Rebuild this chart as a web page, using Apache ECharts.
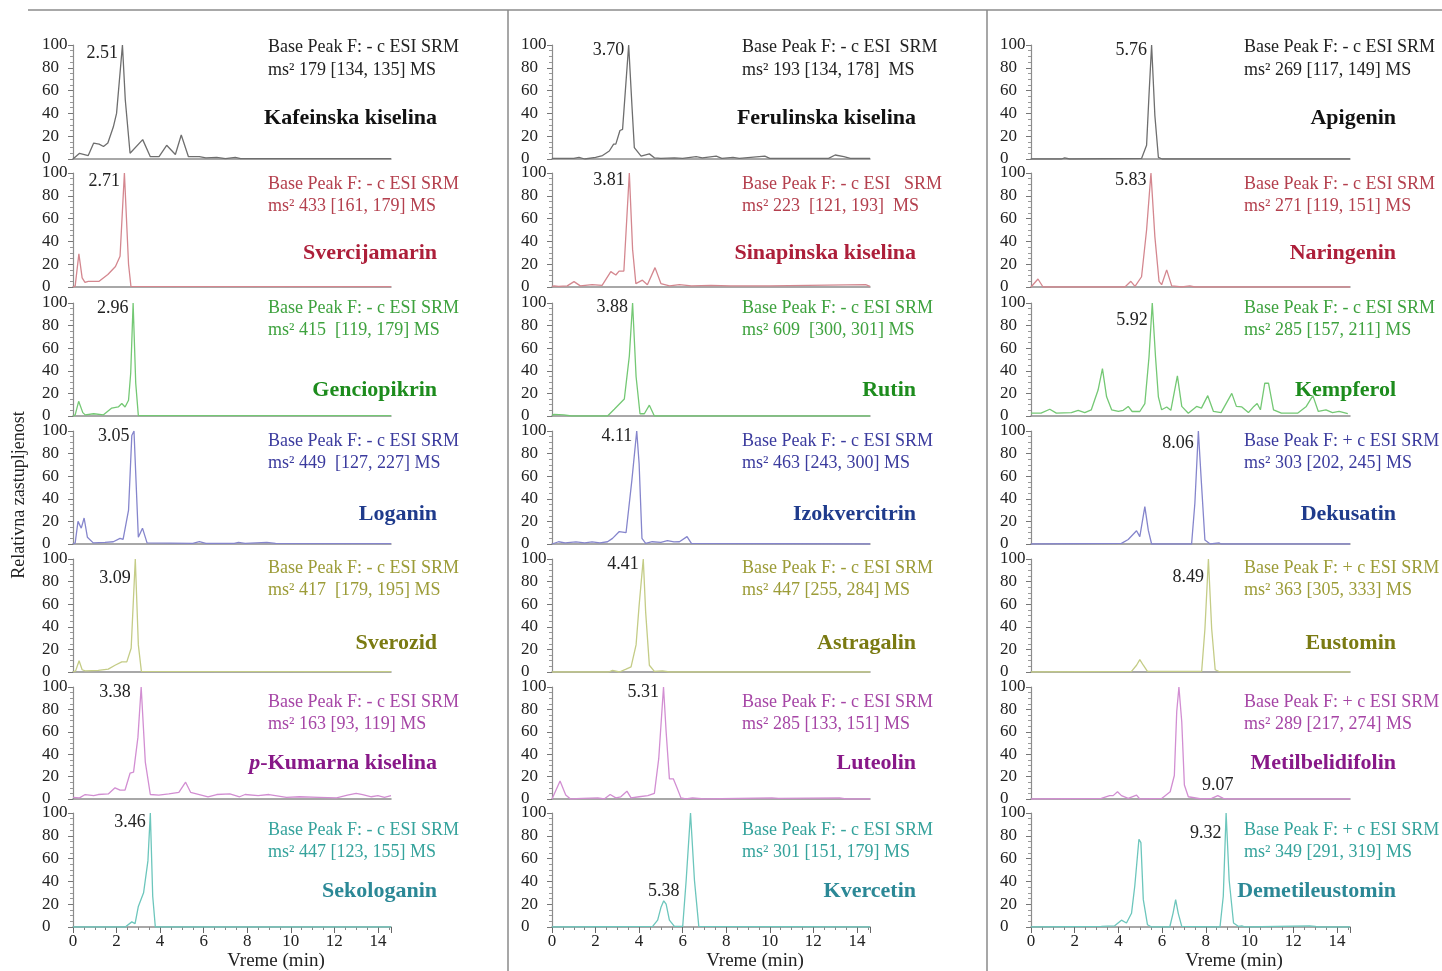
<!DOCTYPE html>
<html><head><meta charset="utf-8">
<script src="https://cdn.jsdelivr.net/npm/echarts@6/dist/echarts.min.js"></script>
<style>html,body{margin:0;padding:0;background:#fff}#c{width:1442px;height:971px}</style>
</head><body><div id="c"></div>
<script>
// ---------------- DATA ----------------
const compounds = ['Kafeinska kiselina','Svercijamarin','Genciopikrin','Loganin','Sverozid','p-Kumarna kiselina','Sekologanin',
  'Ferulinska kiselina','Sinapinska kiselina','Rutin','Izokvercitrin','Astragalin','Luteolin','Kvercetin',
  'Apigenin','Naringenin','Kempferol','Dekusatin','Eustomin','Metilbelidifolin','Demetileustomin'];
const scanFilters = ['Base Peak F: - c ESI SRM','Base Peak F: - c ESI SRM','Base Peak F: - c ESI SRM','Base Peak F: - c ESI SRM','Base Peak F: - c ESI SRM','Base Peak F: - c ESI SRM','Base Peak F: - c ESI SRM',
  'Base Peak F: - c ESI  SRM','Base Peak F: - c ESI   SRM','Base Peak F: - c ESI SRM','Base Peak F: - c ESI SRM','Base Peak F: - c ESI SRM','Base Peak F: - c ESI SRM','Base Peak F: - c ESI SRM',
  'Base Peak F: - c ESI SRM','Base Peak F: - c ESI SRM','Base Peak F: - c ESI SRM','Base Peak F: + c ESI SRM','Base Peak F: + c ESI SRM','Base Peak F: + c ESI SRM','Base Peak F: + c ESI SRM'];
const transitions = ['ms² 179 [134, 135] MS','ms² 433 [161, 179] MS','ms² 415  [119, 179] MS','ms² 449  [127, 227] MS','ms² 417  [179, 195] MS','ms² 163 [93, 119] MS','ms² 447 [123, 155] MS',
  'ms² 193 [134, 178]  MS','ms² 223  [121, 193]  MS','ms² 609  [300, 301] MS','ms² 463 [243, 300] MS','ms² 447 [255, 284] MS','ms² 285 [133, 151] MS','ms² 301 [151, 179] MS',
  'ms² 269 [117, 149] MS','ms² 271 [119, 151] MS','ms² 285 [157, 211] MS','ms² 303 [202, 245] MS','ms² 363 [305, 333] MS','ms² 289 [217, 274] MS','ms² 349 [291, 319] MS'];
const peakTimes = ['2.51','2.71','2.96','3.05','3.09','3.38','3.46','3.70','3.81','3.88','4.11','4.41','5.31','5.38','5.76','5.83','5.92','8.06','8.49','9.07','9.32'];
const xTicks = [0,2,4,6,8,10,12,14];
const yTicks = [0,20,40,60,80,100];

const kafeinska = [[0,0],[0.3,5],[0.7,3],[0.95,14],[1.2,13],[1.4,11],[1.6,14],[1.85,28],[2.0,40],[2.27,100],[2.4,52],[2.62,5],[3.2,17],[3.55,2],[3.95,2],[4.3,12],[4.7,4],[4.97,21],[5.3,2],[5.8,2],[6.1,1],[6.6,1.5],[7.0,0.3],[7.45,1.5],[7.7,0.3],[14.6,0.3]];
const svercijamarin = [[0,0],[0.1,1],[0.27,29],[0.42,8],[0.55,4],[0.7,5],[1.2,5],[1.6,11],[1.95,18],[2.16,27],[2.36,100],[2.44,99],[2.55,20],[2.66,0.5],[14.6,0.3]];
const genciopikrin = [[0,0],[0.1,1],[0.26,13],[0.45,3],[0.56,1],[0.95,2],[1.4,1],[1.78,7],[2.08,8],[2.24,11],[2.39,8],[2.55,14],[2.65,38],[2.76,100],[2.88,29],[3.0,0.3],[14.6,0.3]];
const loganin = [[0,0],[0.1,1],[0.23,20],[0.38,14],[0.51,23],[0.66,6],[0.93,1],[1.47,1.5],[1.85,2],[2.16,5],[2.3,4],[2.55,30],[2.7,96],[2.8,100],[3.0,6],[3.19,14],[3.4,1],[5.5,0.5],[5.8,2],[6.1,0.5],[7.4,0.5],[7.6,1.5],[7.9,0.5],[8.9,1.5],[9.3,0.5],[14.6,0.3]];
const sverozid = [[0,0],[0.12,1],[0.28,10],[0.42,2],[0.56,1],[1.16,1.5],[1.62,2.5],[1.93,6],[2.24,9],[2.47,9],[2.67,21],[2.86,100],[3.0,24],[3.14,0.5],[14.6,0.3]];
const pKumarna = [[0,1.5],[0.3,1],[0.56,4],[0.95,3],[1.16,4],[1.62,4.5],[1.93,10],[2.16,8],[2.39,8],[2.62,23],[2.78,24],[2.98,55],[3.13,100],[3.32,33],[3.55,4],[3.94,3.5],[4.4,4.5],[4.86,6],[5.17,15],[5.4,6],[5.8,4],[6.2,2],[6.6,4],[7.2,4.5],[7.65,2],[7.9,4],[8.5,3],[9.0,4],[9.8,1.5],[10.4,2],[11.3,1.5],[12.1,1],[12.6,3.5],[13.0,5],[13.3,4],[13.7,2],[14.0,3],[14.3,1.5],[14.6,3]];
const sekologanin = [[0,0],[2.4,0],[2.7,4.5],[2.85,3],[3.0,18],[3.24,30],[3.44,58],[3.55,100],[3.66,27],[3.78,0],[14.6,0]];
const ferulinska = [[0,0.5],[1.0,0.5],[1.24,1.5],[1.5,0],[2.0,1.5],[2.32,3],[2.63,7],[2.83,13],[2.93,13],[3.12,25],[3.24,26],[3.52,100],[3.67,47],[3.78,10],[4.09,2.5],[4.47,4.5],[4.7,1],[5.0,0.5],[5.62,1],[6.0,0.5],[6.62,2],[6.9,1],[7.54,2.5],[7.8,0.5],[8.31,1.5],[8.6,0.5],[9.77,2.5],[10.0,0.5],[12.7,0.5],[13.0,3.5],[13.4,2],[13.7,0.5],[14.6,0.5]];
const sinapinska = [[0,0.5],[0.1,1],[0.3,0.5],[0.7,1],[1.01,4.7],[1.3,1],[1.84,2],[2.3,1.5],[2.7,13.5],[2.93,10.5],[3.08,14],[3.3,14],[3.55,100],[3.7,33],[3.85,3],[4.15,6],[4.38,2],[4.73,17],[5.0,3],[5.4,1],[5.85,2],[6.4,1],[7.3,1.5],[8.2,1],[10,1],[14.4,2],[14.6,0.5]];
const rutin = [[0,0.5],[0.1,1.5],[0.54,1],[0.9,0],[2.55,0],[2.86,6],[3.32,15],[3.55,53],[3.7,100],[3.86,35],[4.04,2],[4.24,2],[4.47,9.6],[4.7,0],[14.6,0]];
const izokvercitrin = [[0,0],[0.3,2],[0.6,1],[1.1,1.8],[1.5,1],[1.84,1.8],[2.2,1],[2.55,2],[2.78,5],[3.09,11],[3.4,10],[3.67,57],[3.89,100],[4.0,71],[4.13,5],[4.3,0.5],[4.6,2],[5.0,1.5],[5.3,3],[5.6,1.8],[5.85,2],[6.2,6.5],[6.4,0.5],[14.6,0]];
const astragalin = [[0,0],[2.6,0],[2.78,1.5],[3.09,0],[3.4,2.5],[3.63,4.5],[3.86,24],[4.0,59],[4.19,100],[4.3,53],[4.47,6],[4.7,0.5],[5.07,1],[5.4,0],[14.6,0]];
const luteolin = [[0,0],[0.06,0.5],[0.37,16],[0.63,3.6],[0.85,0],[1.4,0.5],[2.1,1],[2.4,0],[2.67,4],[2.93,1],[3.16,2],[3.44,7],[3.63,1],[4.0,2],[4.4,3],[4.7,5],[4.9,36],[5.12,100],[5.24,60],[5.39,18],[5.57,18],[5.72,11],[5.92,1],[6.15,0],[6.45,1],[7,0],[10.1,1],[10.4,0.5],[13.2,1],[13.5,0],[14.6,0]];
const kvercetin = [[0,0],[4.62,0.5],[4.85,6],[5.0,17],[5.13,23],[5.24,20],[5.39,6],[5.62,0.5],[6.0,0.5],[6.16,41],[6.36,100],[6.54,41],[6.74,0.5],[14.6,0]];
const apigenin = [[0,0],[1.4,0],[1.54,1],[1.77,0],[5.06,0.5],[5.29,12],[5.4,56],[5.52,100],[5.67,38],[5.83,1.5],[6.0,0],[14.6,0]];
const naringenin = [[0,0],[0.09,0.5],[0.32,7],[0.55,0],[4.3,0],[4.57,5],[4.76,0.5],[5.06,9],[5.29,50],[5.49,100],[5.67,44],[5.86,5],[5.98,2],[6.21,15],[6.44,1],[6.9,0],[7.27,1],[7.5,0],[14.6,0]];
const kempferol = [[0,2.5],[0.46,2.5],[0.86,6],[1.16,2.5],[1.85,3],[2.16,5],[2.46,3],[2.76,5.5],[3.07,23],[3.27,42],[3.46,17],[3.69,5.5],[4.0,4],[4.22,5],[4.45,8.5],[4.63,4],[4.98,4],[5.21,11],[5.4,52],[5.55,100],[5.7,52],[5.83,17],[5.98,5.5],[6.21,8],[6.4,5],[6.7,35.5],[6.9,8.5],[7.2,2.5],[7.58,8.5],[7.8,7],[8.09,18],[8.35,4],[8.7,3],[9.19,20],[9.4,8.5],[9.65,8],[9.95,3],[10.2,8.5],[10.35,11],[10.5,5.5],[10.7,29],[10.87,29],[11.1,5.5],[11.46,2.5],[12.2,2.5],[12.6,8.5],[12.9,18],[13.15,4],[13.5,5.5],[13.8,3],[14.1,4],[14.5,2]];
const dekusatin = [[0,0],[4.14,0.5],[4.45,4],[4.83,11.7],[4.98,6.5],[5.21,33],[5.37,12],[5.52,0],[7.35,0],[7.5,36],[7.66,100],[7.8,54],[7.96,3.5],[8.2,0],[8.6,1],[8.7,0],[14.6,0]];
const eustomin = [[0,0],[4.6,0.5],[4.83,6],[4.98,11],[5.14,6],[5.33,0.5],[7.81,0.5],[7.96,38],[8.12,100],[8.27,38],[8.43,2],[8.66,0],[14.6,0]];
const metilbelidifolin = [[0,0],[3.22,0.5],[3.6,3],[3.76,3],[3.96,6.5],[4.14,3],[4.45,0.5],[4.83,3.5],[4.98,0],[5.98,0.5],[6.14,3],[6.37,6.5],[6.56,21],[6.67,78],[6.77,100],[6.9,69],[7.02,12.5],[7.2,2],[7.8,0],[8.27,0.5],[8.55,3],[8.8,0.5],[9.0,0],[14.6,0]];
const demetileustomin = [[0,0],[3.22,0.5],[3.83,1],[4.14,6],[4.37,3.5],[4.6,12],[4.75,36],[4.94,77],[5.03,74],[5.14,24],[5.33,2],[5.52,0],[6.35,0],[6.5,12],[6.62,24],[6.74,12],[6.9,0.5],[8.65,0],[8.8,27],[8.93,100],[9.07,41],[9.27,3.5],[9.5,0.5],[9.65,1],[9.8,0],[12.75,1],[13.0,0.5],[13.1,0],[14.6,0]];

const traces = [kafeinska,svercijamarin,genciopikrin,loganin,sverozid,pKumarna,sekologanin,
  ferulinska,sinapinska,rutin,izokvercitrin,astragalin,luteolin,kvercetin,
  apigenin,naringenin,kempferol,dekusatin,eustomin,metilbelidifolin,demetileustomin];

// ---------------- LAYOUT / STYLE ----------------
const FONT = '"Liberation Serif", "DejaVu Serif", serif';
const colLeft = [73, 552, 1031];
const colWidth = [318, 318, 319];
const rowTop = [45, 173, 303, 431, 559, 687, 813];
const rowHeight = [114, 114, 113, 113, 113, 112, 114];
const infoX = [268, 742, 1244];
const nameRight = [437, 916, 1396];
const infoY1 = [47, 184, 308, 441, 568, 702, 830];
const infoY2 = [70, 206, 330, 463, 590, 724, 852];
const nameY = [118, 253, 390, 514, 643, 763, 891];
const rowStyles = [
  {line:'#6e6e6e', info:'#222222', name:'#111111'},
  {line:'#d4878f', info:'#b4404e', name:'#ad1f3a'},
  {line:'#74c874', info:'#3ea23e', name:'#1d8c1d'},
  {line:'#8585cc', info:'#3b3b9e', name:'#1f3b8c'},
  {line:'#c4cc86', info:'#9c9c38', name:'#7a7a12'},
  {line:'#d28ed2', info:'#a646a6', name:'#881888'},
  {line:'#6cc6bc', info:'#35a39c', name:'#2b8896'}
];
// peak-label anchor (y in axis units; x defaults to the trace maximum)
const labelLayout = [
  {y:93},{y:93},{y:95},{y:95},{y:83},{y:95,d:10},{y:92},
  {y:95},{y:94},{y:96},{y:95},{y:95},{y:95},{x:5.13,y:23,pos:'top',d:0},
  {y:95},{y:94},{y:85},{y:89},{y:84},{x:8.55,y:3,pos:'top',d:1},{y:82}
];

const grids = [], xAxes = [], yAxes = [], series = [], graphics = [];
for (let i = 0; i < traces.length; i++) {
  const c = Math.floor(i / 7), r = i % 7;
  const bottom = r === 6;
  const st = rowStyles[r];
  grids.push({left: colLeft[c], top: rowTop[r], width: colWidth[c], height: rowHeight[r]});
  xAxes.push({
    gridIndex: i, type: 'value', min: 0, max: 14.6, interval: 2,
    axisLine: {show: true, onZero: false, lineStyle: {color: '#8c8c8c', width: 1.5}},
    axisTick: {show: bottom, length: 6, lineStyle: {color: '#666'}},
    minorTick: {show: bottom, splitNumber: 4, length: 3, lineStyle: {color: '#888'}},
    splitLine: {show: false}, minorSplitLine: {show: false},
    axisLabel: {show: bottom, fontFamily: FONT, fontSize: 17, color: '#222', margin: 6,
      formatter: v => xTicks.indexOf(Math.round(v * 1000) / 1000) >= 0 ? String(Math.round(v)) : ''}
  });
  yAxes.push({
    gridIndex: i, type: 'value', min: 0, max: 100, interval: 20,
    axisLine: {show: true, lineStyle: {color: '#8c8c8c', width: 1.2}},
    axisTick: {show: true, length: 5, lineStyle: {color: '#777'}},
    minorTick: {show: true, splitNumber: 4, length: 3, lineStyle: {color: '#999'}},
    splitLine: {show: false},
    axisLabel: {fontFamily: FONT, fontSize: 17, color: '#222', align: 'left', margin: 31,
      formatter: v => yTicks.indexOf(v) >= 0 ? String(v) : ''}
  });
  const tr = traces[i];
  let mx = tr[0];
  tr.forEach(p => { if (p[1] > mx[1]) mx = p; });
  const L = labelLayout[i];
  series.push({
    type: 'line', xAxisIndex: i, yAxisIndex: i, data: tr,
    showSymbol: false, symbol: 'none', animation: false, silent: true,
    lineStyle: {width: 1.3, color: st.line},
    markPoint: {
      symbol: 'circle', symbolSize: 1, silent: true, animation: false,
      itemStyle: {color: 'rgba(0,0,0,0)'},
      label: {show: true, position: L.pos || 'left', distance: L.d !== undefined ? L.d : 4,
        formatter: peakTimes[i], fontFamily: FONT, fontSize: 18, color: '#222'},
      data: [{coord: [L.x !== undefined ? L.x : mx[0], L.y]}]
    }
  });
  graphics.push({type: 'text', silent: true, style: {x: infoX[c], y: infoY1[r], text: scanFilters[i],
    font: '18px ' + FONT, fill: st.info, align: 'left', verticalAlign: 'middle', textAlign: 'left', textVerticalAlign: 'middle'}});
  graphics.push({type: 'text', silent: true, style: {x: infoX[c], y: infoY2[r], text: transitions[i],
    font: '18px ' + FONT, fill: st.info, align: 'left', verticalAlign: 'middle', textAlign: 'left', textVerticalAlign: 'middle'}});
  const nm = compounds[i];
  const isP = nm.indexOf('p-') === 0;
  graphics.push({type: 'text', silent: true, style: {x: nameRight[c], y: nameY[r],
    text: isP ? '{i|p}-' + nm.slice(2) : nm,
    font: 'bold 22px ' + FONT, fill: st.name, align: 'right', verticalAlign: 'middle', textAlign: 'right', textVerticalAlign: 'middle',
    rich: {i: {fontStyle: 'italic', fontWeight: 'bold', fontSize: 22, fontFamily: FONT, fill: st.name, color: st.name}}}});
}
// frame lines and shared titles
graphics.push({type: 'line', silent: true, shape: {x1: 28, y1: 10, x2: 1442, y2: 10}, style: {stroke: '#a8a8a8', lineWidth: 2}});
graphics.push({type: 'line', silent: true, shape: {x1: 508, y1: 10, x2: 508, y2: 971}, style: {stroke: '#8a8a8a', lineWidth: 1.5}});
graphics.push({type: 'line', silent: true, shape: {x1: 987, y1: 10, x2: 987, y2: 971}, style: {stroke: '#8a8a8a', lineWidth: 1.5}});
graphics.push({type: 'text', silent: true, x: 19, y: 495, rotation: Math.PI / 2,
  style: {x: 0, y: 0, text: 'Relativna zastupljenost', font: '18px ' + FONT, fill: '#222',
    align: 'center', verticalAlign: 'middle', textAlign: 'center', textVerticalAlign: 'middle'}});
const xTitleX = [276, 755, 1234];
xTitleX.forEach(x => graphics.push({type: 'text', silent: true, style: {x: x, y: 961, text: 'Vreme (min)',
  font: '19px ' + FONT, fill: '#222', align: 'center', verticalAlign: 'middle', textAlign: 'center', textVerticalAlign: 'middle'}}));

const chart = echarts.init(document.getElementById('c'), null, {renderer: 'canvas'});
chart.setOption({
  animation: false, backgroundColor: '#fff',
  grid: grids, xAxis: xAxes, yAxis: yAxes, series: series, graphic: graphics
});
</script></body></html>
